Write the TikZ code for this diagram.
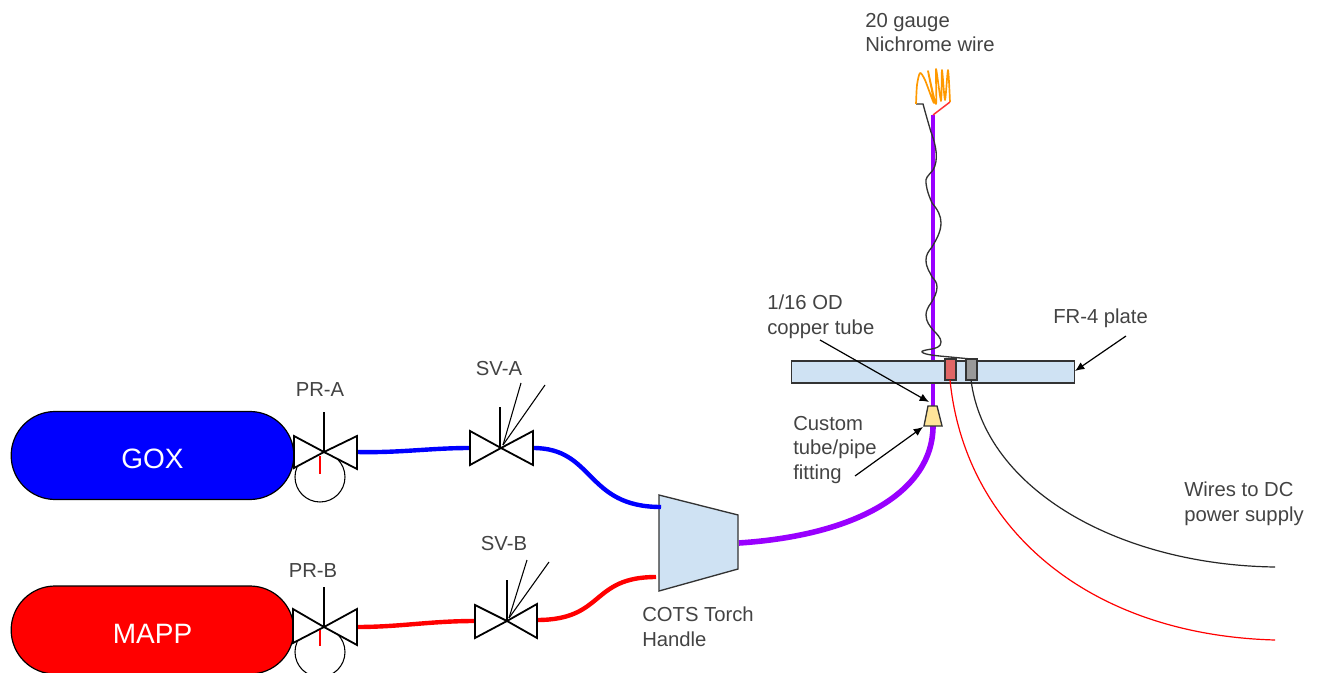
\documentclass[tikz,border=0pt]{standalone}
\usepackage{fontspec}
\setmainfont{Liberation Sans}
\usetikzlibrary{arrows.meta}
\definecolor{txt}{HTML}{434343}
\definecolor{fillblue}{HTML}{CFE2F3}
\definecolor{fillyel}{HTML}{FFE599}
\definecolor{fillred}{HTML}{E06666}
\definecolor{fillgray}{HTML}{999999}
\definecolor{purp}{HTML}{9900FF}
\definecolor{orng}{HTML}{FF9900}
\tikzset{
  x=0.75pt,y=-0.75pt,
  tank/.style={draw=black,line width=0.9pt,rounded corners=33pt,minimum width=212pt,minimum height=66pt,inner sep=0pt,text=white,font=\fontsize{21}{24}\selectfont},
  lbl/.style={text=txt,font=\fontsize{15.2}{18.4}\selectfont,inner sep=0pt,align=left,anchor=west},
  lblc/.style={text=txt,font=\fontsize{15.2}{18.4}\selectfont,inner sep=0pt,align=center},
  pipe/.style={line width=3.3pt},
  thickpipe/.style={line width=4.2pt,draw=purp},
  valve/.style={draw=black,line width=1.35pt,fill=white,line join=miter},
  stem/.style={draw=black,line width=1.2pt},
  thinl/.style={draw=black,line width=0.8pt},
  lead/.style={draw=black,line width=0.9pt,-{Latex[length=7pt,width=6pt]}},
  box/.style={draw=black!80,line width=1pt},
  wire/.style={line width=0.9pt},
}
\begin{document}
\begin{tikzpicture}
\useasboundingbox (0,0) rectangle (1320,673);
% tanks
\node[tank,fill=blue] (gox) at (152.5,455.5) {\rule{0pt}{19.5pt}GOX};
\node[tank,fill=red] (mapp) at (152.5,630) {\rule{0pt}{19.5pt}MAPP};
% named points
\coordinate (pra) at (357,452);
\coordinate (sval) at (470,448);
\coordinate (svar) at (533,448);
\coordinate (prb) at (357,627);
\coordinate (svbl) at (475,621);
\coordinate (svbr) at (537,620);
% handle
\draw[box,fill=fillblue] (659,495) coordinate (hul) -- (738,515) -- (738,569) -- (659,591) -- cycle;
\coordinate (hblue) at (661,507);
\coordinate (hred) at (656,577);
\coordinate (hout) at (739,543);
% pipes
\draw[pipe,blue] (pra) .. controls (400,453) and (430,448) .. (sval);
\draw[pipe,blue] (svar) .. controls (595,448) and (585,507) .. (hblue);
\draw[pipe,red] (prb) .. controls (400,627) and (430,621) .. (svbl);
\draw[pipe,red] (svbr) .. controls (605,620) and (590,577) .. (hred);
% plate and tube
\coordinate (tubetop) at (933,115);
\coordinate (fittop) at (933,406);
\coordinate (fitbot) at (933,426);
\draw[line width=2.8pt,purp] (tubetop) -- (fittop);
\node[draw=black!80,line width=1pt,fill=fillblue,minimum width=212pt,minimum height=16.5pt,inner sep=0pt] (plate) at (933,372) {};
\draw[box,fill=fillred] (945,359) rectangle (956,380);
\draw[box,fill=fillgray] (966,359) rectangle (977,380);
\coordinate (redb) at (950,380);
\coordinate (blkb) at (971,380);
\coordinate (blkt) at (971,359);
% fitting
\draw[thickpipe] (fitbot) .. controls (933,490) and (860,535) .. (hout);
\draw[box,fill=fillyel] (928,406) -- (937,406) -- (942,426) -- (924,426) -- cycle;
% wires
\draw[wire,red] (redb) .. controls (965,530) and (1090,635) .. (1275,640) coordinate (redend);
\draw[wire,black!85] (blkb) .. controls (985,490) and (1120,565) .. (1275,567) coordinate (blkend);
% nichrome wire
\draw[line width=1pt,black!80] (916,104) -- (923,104)
  .. controls (926,115) and (928,122) .. (931,132)
  .. controls (936,145) and (939,160) .. (933,170)
  .. controls (928,176) and (925,178) .. (926,183)
  .. controls (927,192) and (930,198) .. (932,203)
  .. controls (938,210) and (941,216) .. (941,223)
  .. controls (941,232) and (936,240) .. (932,247)
  .. controls (928,252) and (926,255) .. (926,260)
  .. controls (926,268) and (930,272) .. (932,277)
  .. controls (935,280) and (937,283) .. (937,287)
  .. controls (937,293) and (934,298) .. (931,303)
  .. controls (928,307) and (926,311) .. (926,315)
  .. controls (926,322) and (930,326) .. (933,330)
  .. controls (937,334) and (941,338) .. (941,342)
  .. controls (941,347) and (936,348) .. (932,349)
  .. controls (925,350) and (921,351) .. (922,352)
  .. controls (924,355) and (940,356) .. (950,357)
  -- (blkt);
\draw[line width=1.25pt,orng,line join=round] plot[smooth,tension=0.45] coordinates {(916,104) (917,85) (920,73) (925,80) (934,103) (928,71) (936,104) (936,69) (941,101) (942,70) (945,100) (948,70) (950,102)};
\draw[line width=1.1pt,red!80!white] (950,102) -- (tubetop);
% gauges and valves
\node[draw=black,line width=0.8pt,circle,minimum size=37.5pt,inner sep=0pt] (ga) at (320,477) {};
\draw[valve] (294,436) -- (324,452) -- (294,468) -- cycle;
\draw[valve] (357,436) -- (324,452) -- (357,469) -- cycle;
\draw[stem] (324,412) -- (324,452);
\draw[line width=0.8pt,red] (320,456) -- (320,474);

\node[draw=black,line width=0.8pt,circle,minimum size=37.5pt,inner sep=0pt] (gb) at (320,652) {};
\draw[valve] (293,609) -- (324,627) -- (293,643) -- cycle;
\draw[valve] (357,609) -- (324,627) -- (357,645) -- cycle;
\draw[stem] (324,587) -- (324,627);
\draw[line width=0.8pt,red] (320,630) -- (320,646);

\draw[valve] (470,431) -- (501,448) -- (470,465) -- cycle;
\draw[valve] (533,431) -- (501,448) -- (533,465) -- cycle;
\draw[stem] (500,407) -- (500,448);
\draw[thinl] (503,445) -- (521,383);
\draw[thinl] (503,445) -- (545,385);

\draw[valve] (475,605) -- (507,621) -- (475,638) -- cycle;
\draw[valve] (537,604) -- (507,621) -- (537,638) -- cycle;
\draw[stem] (507,580) -- (507,621);
\draw[thinl] (509,618) -- (527,560);
\draw[thinl] (509,618) -- (549,562);
% labels
\node[lbl] (l20) at (865,32.5) {20 gauge\\Nichrome wire};
\node[lbl] (l116) at (767,316.5) {1/16 OD\\copper tube};
\node[lbl] (lfr) at (1053,318) {FR-4 plate};
\node[lbl] (lcu) at (793,450) {Custom\\tube/pipe\\fitting};
\node[lbl] (lw) at (1184,504) {Wires to DC\\power supply};
\node[lbl] (lc) at (642,626.5) {COTS Torch\\Handle};
\node[lblc] (lpa) at (320,389.5) {PR-A};
\node[lblc] (lsa) at (499,368.5) {SV-A};
\node[lblc] (lpb) at (313,570.5) {PR-B};
\node[lblc] (lsb) at (504,543.5) {SV-B};
% leaders
\coordinate (a1s) at (820,340);
\coordinate (a1e) at (929,402);
\coordinate (a2s) at (855,476);
\coordinate (a2e) at (923,427);
\coordinate (a3s) at (1126,336);
\coordinate (a3e) at (1075,371);
\draw[lead] (a1s) -- (a1e);
\draw[lead] (a2s) -- (a2e);
\draw[lead] (a3s) -- (a3e);
\end{tikzpicture}
\end{document}
